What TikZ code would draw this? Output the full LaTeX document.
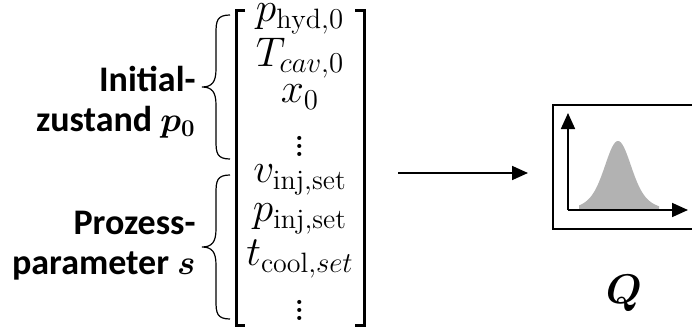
\documentclass[tikz,border=0pt]{standalone}
\usepackage{amsmath,amssymb}
\usepackage{fontspec}
\newfontfamily\lblfont{Carlito}
\usepackage{tikz}
\usetikzlibrary{arrows.meta}

\tikzset{
  lbl/.style={font=\lblfont\bfseries\fontsize{18}{20}\selectfont, align=right, anchor=east, inner sep=0pt},
  entry/.style={font=\fontsize{20}{22}\selectfont, inner sep=0pt},
  dots/.style={font=\fontsize{25}{27}\selectfont, inner sep=0pt},
  bracket/.style={line width=1.5pt},
  curly/.style={line width=0.6pt},
  pfeil/.style={line width=0.9pt,-{Triangle[length=8pt,width=7pt]}},
}

\begin{document}
\begin{tikzpicture}[x=0.5pt,y=-0.5pt]
  \useasboundingbox (0,0) rectangle (692,332);
  % Vektor
  \node[entry] (phyd) at (300,19) {$p_{\mathrm{hyd},0}$};
  \node[entry] (tcav) at (300,58) {$T_{cav,0}$};
  \node[entry] (xnull) at (300,97) {$x_0$};
  \node[dots] (dotsA) at (300,140) {$\vdots$};
  \node[entry] (vinj) at (300,180) {$v_{\mathrm{inj,set}}$};
  \node[entry] (pinj) at (300,219) {$p_{\mathrm{inj,set}}$};
  \node[entry] (tcool) at (300,259) {$t_{\mathrm{cool},set}$};
  \node[dots] (dotsB) at (300,304) {$\vdots$};
  % Klammern
  \draw[bracket] (245,10) -- (236,10) -- (236,325) -- (245,325);
  \draw[bracket] (355,10) -- (364,10) -- (364,325) -- (355,325);
  % geschweifte Klammern
  \foreach \t in {87,247} {
    \draw[curly] (230,\t-72) .. controls (217,\t-72) and (216,\t-66) .. (216,\t-54)
      -- (216,\t-18) .. controls (216,\t-5) and (212,\t) .. (202,\t)
      .. controls (212,\t) and (216,\t+5) .. (216,\t+18)
      -- (216,\t+54) .. controls (216,\t+66) and (217,\t+72) .. (230,\t+72);
  }
  % Beschriftung
  \node[lbl] (init) at (196,102) {Initial-\\zustand $\boldsymbol{p_0}$};
  \node[lbl] (proz) at (196,246) {Prozess-\\parameter $\boldsymbol{s}$};
  % Pfeil
  \coordinate (vecR) at (398,173);
  \coordinate (boxL) at (528,173);
  \draw[pfeil] (vecR) -- (boxL);
  % Verteilung
  \draw[line width=1pt] (553,105) rectangle (710,229);
  \fill[gray!60] (579,210) -- plot[domain=579:659,samples=80]
    (\x,{210-69*(0.7*exp(-((\x-618)/12)*((\x-618)/12)/2)+0.3*exp(-((\x-618)/22)*((\x-618)/22)/2))})
    -- (659,210) -- cycle;
  \coordinate (orig) at (568,210);
  \draw[pfeil] (orig) -- (568,113);
  \draw[pfeil] (orig) -- (688,210);
  \node[entry] (qual) at (624,293) {$\boldsymbol{Q}$};
\end{tikzpicture}
\end{document}
